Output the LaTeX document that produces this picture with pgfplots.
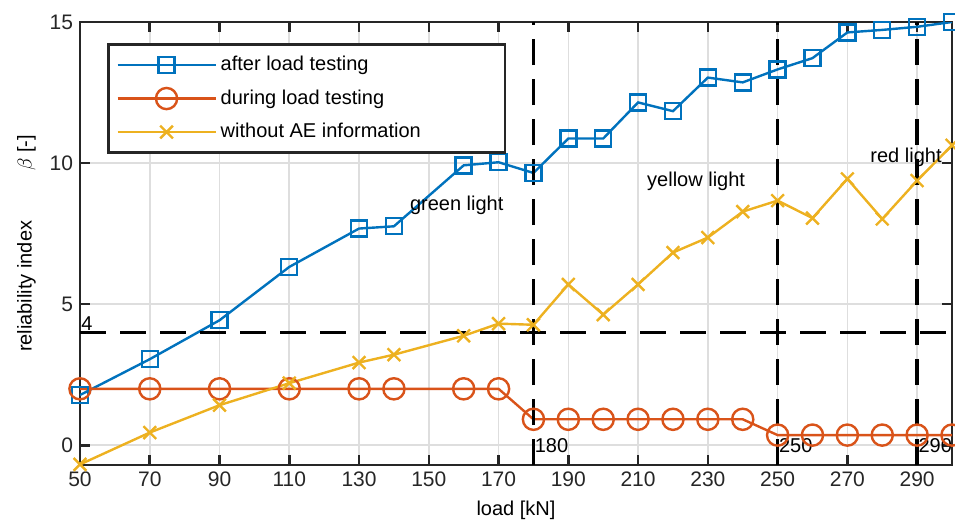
\documentclass[border=0pt]{standalone}
\usepackage{pgfplots}
\pgfplotsset{compat=1.18}
\usepackage{fontspec}
\setmainfont{Liberation Sans}
\definecolor{mblue}{rgb}{0,0.447,0.741}
\definecolor{morange}{rgb}{0.85,0.325,0.098}
\definecolor{myellow}{rgb}{0.929,0.694,0.125}
\begin{document}
\begin{tikzpicture}
\begin{axis}[
 scale only axis, width=436pt, height=221.5pt,
 xmin=50, xmax=300, ymin=-0.7, ymax=15,
 xtick={50,70,...,290}, ytick={0,5,10,15},
 tick align=inside, tick pos=both, major tick length=5pt,
 grid=major, major grid style={line width=0.8pt, black!13},
 axis line style={line width=1.3pt, black!85},
 every tick/.style={line width=1.3pt, black!85},
 /pgf/number format/assume math mode=true,
 tick label style={font=\fontsize{10.5}{12}\selectfont, black!85},
 label style={font=\fontsize{10}{12}\selectfont},
 xlabel={load [kN]}, ylabel={reliability index\hspace{25pt}$\beta$ [-]},
 legend style={at={(0.031,0.9526)}, anchor=north west, draw=black!85, line width=1.3pt,
   font=\fontsize{10}{12}\selectfont, row sep=4pt, inner sep=4pt},
 legend cell align=left,
 legend image code/.code={\draw[mark repeat=2,mark phase=2] plot coordinates {(0pt,0pt) (24.5pt,0pt) (49pt,0pt)};},
]
\addplot[mblue, line width=1.2pt, mark=square, mark size=4pt, mark options={solid}] coordinates {
(50,1.78) (70,3.05) (90,4.43) (110,6.32) (130,7.68) (140,7.76) (160,9.92) (170,10.03) (180,9.65)
(190,10.87) (200,10.87) (210,12.15) (220,11.84) (230,13.03) (240,12.86) (250,13.32) (260,13.72)
(270,14.63) (280,14.72) (290,14.83) (300,15.0)};
\addlegendentry{after load testing}
\addplot[morange, line width=1.2pt, mark=o, mark size=5.3pt, mark options={solid}] coordinates {
(50,2.0) (70,2.0) (90,2.0) (110,2.0) (130,2.0) (140,2.0) (160,2.0) (170,2.0) (180,0.92)
(190,0.92) (200,0.92) (210,0.92) (220,0.92) (230,0.92) (240,0.92) (250,0.36) (260,0.36)
(270,0.36) (280,0.36) (290,0.36) (300,0.36)};
\addlegendentry{during load testing}
\addplot[myellow, line width=1.2pt, mark=x, mark size=4.5pt, mark options={solid}] coordinates {
(50,-0.68) (70,0.45) (90,1.42) (110,2.2) (130,2.93) (140,3.21) (160,3.88) (170,4.31) (180,4.27)
(190,5.7) (200,4.63) (210,5.7) (220,6.83) (230,7.36) (240,8.28) (250,8.67) (260,8.05)
(270,9.44) (280,8.02) (290,9.38) (300,10.63)};
\addlegendentry{without AE information\hspace*{36pt}}
\addplot[black, line width=1.8pt, dash pattern=on 13pt off 7pt, forget plot] coordinates {(50,4) (300,4)};
\addplot[black, line width=1.8pt, dash pattern=on 13pt off 7pt, forget plot] coordinates {(180,-0.7) (180,15)};
\addplot[black, line width=1.8pt, dash pattern=on 13pt off 7pt, forget plot] coordinates {(250,-0.7) (250,15)};
\addplot[black, line width=1.8pt, dash pattern=on 13pt off 7pt, forget plot] coordinates {(290,-0.7) (290,15)};
\node[anchor=south west, inner sep=0.5pt, font=\fontsize{10}{12}\selectfont] at (axis cs:50,4) {4};
\node[anchor=west, inner sep=0.5pt, font=\fontsize{10}{12}\selectfont] at (axis cs:180,0) {180};
\node[anchor=west, inner sep=0.5pt, font=\fontsize{10}{12}\selectfont] at (axis cs:250,0) {250};
\node[anchor=west, inner sep=0.5pt, font=\fontsize{10}{12}\selectfont] at (axis cs:290,0) {290};
\node[anchor=west, inner sep=0pt, font=\fontsize{10}{12}\selectfont] at (axis cs:144.5,8.5) {green light};
\node[anchor=west, inner sep=0pt, font=\fontsize{10}{12}\selectfont] at (axis cs:212.5,9.35) {yellow light};
\node[anchor=west, inner sep=0pt, font=\fontsize{10}{12}\selectfont] at (axis cs:276.5,10.2) {red light};
\end{axis}
\pgfresetboundingbox
\path ([xshift=-40pt,yshift=-33pt]current axis.south west) rectangle ([xshift=1.5pt,yshift=11pt]current axis.north east);
\end{tikzpicture}
\end{document}
